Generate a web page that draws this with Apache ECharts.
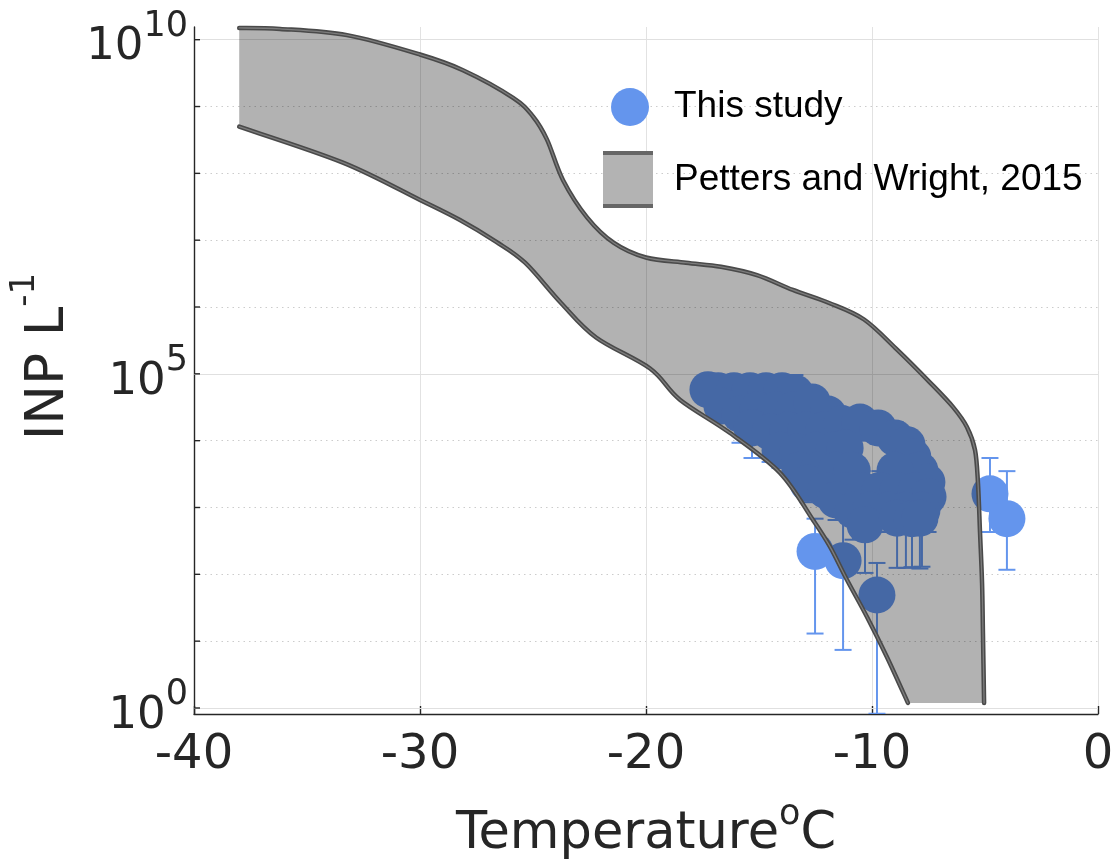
<!DOCTYPE html>
<html>
<head>
<meta charset="utf-8">
<script src="https://cdn.jsdelivr.net/npm/echarts@6/dist/echarts.min.js"></script>
<style>
  html, body { margin: 0; padding: 0; background: #ffffff; }
  #chart { width: 1114px; height: 864px; }
</style>
</head>
<body>
<div id="chart"></div>
<script>
// ---- axis ticks ----
const xTicks = [-40, -30, -20, -10, 0];
const yDecades = [1, 1e1, 1e2, 1e3, 1e4, 1e5, 1e6, 1e7, 1e8, 1e9, 1e10];
const yLabelDecades = [1, 1e5, 1e10];

// ---- INP measurements (this study): temperature, concentration, error range ----
const obsTemp = [
  -17.26, -16.81, -16.11, -15.40, -14.69, -13.98, -13.41,
  -16.64, -15.84, -15.04, -14.25, -13.45, -12.65, -11.95,
  -15.31, -14.51, -13.72, -12.92, -12.12, -11.33, -10.53, -9.73, -8.98, -8.45,
  -14.07, -13.27, -12.48, -11.68, -11.19, -8.19, -7.88,
  -13.19, -12.39, -11.59, -10.88, -8.98, -7.57,
  -12.83, -12.04, -11.24, -10.44, -9.65, -8.85, -8.05, -7.52,
  -11.59, -10.84, -10.09, -9.29, -8.50, -7.79,
  -10.31, -8.89, -8.23, -7.88,
  -11.28, -9.78,
  -12.52, -4.78, -4.03
];
const obsINP = [
  5.8e4, 5.6e4, 5.6e4, 5.6e4, 5.6e4, 5.6e4, 5.2e4,
  3.3e4, 2.5e4, 2.9e4, 2.9e4, 2.9e4, 3.8e4, 2.5e4,
  1.55e4, 1.35e4, 1.45e4, 1.45e4, 1.45e4, 1.8e4, 1.9e4, 1.55e4, 1.1e4, 8.7e3,
  7.2e3, 6.8e3, 7.2e3, 7.2e3, 7.8e3, 5.7e3, 3.6e3,
  3.6e3, 3.6e3, 3.6e3, 3.6e3, 3.6e3, 2.4e3,
  2.3e3, 1.8e3, 1.8e3, 1.8e3, 1.8e3, 1.8e3, 1.8e3, 1.45e3,
  1.3e3, 910, 910, 910, 910, 910,
  550, 690, 680, 690,
  160, 49,
  220, 1.6e3, 680
];
const obsLow = [
  3.8e4, 2.9e4, 3.0e4, 3.0e4, 3.0e4, 3.0e4, 2.8e4,
  2.1e4, 9.3e3, 1.5e4, 1.5e4, 1.5e4, 2.0e4, 1.4e4,
  5.5e3, 4.8e3, 3.9e3, 6.0e3, 6.0e3, 8.0e3, 1.0e4, 9.0e3, 6.0e3, 5.0e3,
  3.9e3, 2.9e3, 3.5e3, 3.5e3, 3.5e3, 3.0e3, 2.0e3,
  2.0e3, 2.0e3, 2.0e3, 2.0e3, 2.0e3, 1.3e3,
  1.2e3, 1.2e3, 900, 900, 900, 900, 900, 430,
  650, 330, 400, 430, 125, 130,
  105, 125, 128, 122,
  7.4, 0.82,
  13, 430, 117
];
const obsHigh = [
  9.6e4, 9.6e4, 9.6e4, 9.6e4, 9.6e4, 9.6e4, 9.6e4,
  5.6e4, 4.5e4, 5.0e4, 5.0e4, 5.0e4, 6.0e4, 4.2e4,
  2.8e4, 2.5e4, 2.6e4, 2.6e4, 2.6e4, 3.0e4, 2.8e4, 2.1e4, 1.9e4, 1.4e4,
  1.5e4, 1.4e4, 1.5e4, 1.5e4, 1.5e4, 7.8e3, 5.1e3,
  7.0e3, 7.0e3, 7.0e3, 7.0e3, 5.0e3, 4.5e3,
  5.0e3, 4.0e3, 4.0e3, 3.5e3, 3.5e3, 3.5e3, 3.5e3, 2.8e3,
  2.6e3, 2.0e3, 2.0e3, 2.0e3, 2.0e3, 2.0e3,
  1.2e3, 1.5e3, 1.5e3, 1.5e3,
  710, 148,
  680, 5.5e3, 3.5e3
];

// ---- Petters and Wright (2015) envelope ----
const bandUpperTemp = [-38.0, -36.19, -33.23, -30.0, -28.10, -25.88, -25.0, -24.38, -23.67, -22.61,
  -21.42, -20.0, -18.23, -16.68, -15.09, -13.50, -11.90, -10.35, -8.89, -7.43, -6.42, -5.80, -5.44,
  -5.31, -5.22, -5.13, -5.09, -5.04];
const bandUpperINP = [1.5e10, 1.45e10, 1.17e10, 6.0e9, 3.5e9, 1.35e9, 7.1e8, 3.2e8, 7.9e7, 2.2e7,
  9.1e6, 5.5e6, 4.6e6, 4.0e6, 3.0e6, 1.8e6, 1.15e6, 6.5e5, 2.3e5, 7.4e4, 3.2e4, 1.6e4, 7.2e3,
  2.3e3, 420, 74, 13, 1.19];
const bandLowerTemp = [-38.0, -33.41, -30.0, -28.23, -26.64, -25.35, -23.76, -22.21, -19.82, -18.50,
  -16.28, -14.07, -12.61, -11.86, -11.11, -10.22, -9.34, -8.41];
const bandLowerINP = [5.0e8, 1.45e8, 4.0e7, 2.0e7, 9.5e6, 4.6e6, 1.15e6, 3.5e5, 1.2e5, 4.1e4,
  1.3e4, 3.3e3, 650, 260, 83, 23, 5.8, 1.19];

// ---- drawing helpers ----
// Catmull-Rom curve through pixel points, as SVG path commands
function curvePath(pts, start) {
  let d = (start ? 'M' : 'L') + pts[0][0] + ',' + pts[0][1];
  for (let i = 0; i < pts.length - 1; i++) {
    const p0 = pts[i - 1] || pts[i];
    const p1 = pts[i];
    const p2 = pts[i + 1];
    const p3 = pts[i + 2] || p2;
    const c1x = p1[0] + (p2[0] - p0[0]) / 6, c1y = p1[1] + (p2[1] - p0[1]) / 6;
    const c2x = p2[0] - (p3[0] - p1[0]) / 6, c2y = p2[1] - (p3[1] - p1[1]) / 6;
    d += 'C' + c1x + ',' + c1y + ',' + c2x + ',' + c2y + ',' + p2[0] + ',' + p2[1];
  }
  return d;
}

const bandLegendIcon = 'image://data:image/svg+xml;charset=utf-8,' + encodeURIComponent(
  '<svg xmlns="http://www.w3.org/2000/svg" width="50" height="57">' +
  '<rect x="0" y="2" width="50" height="53" fill="#b3b3b3"/>' +
  '<rect x="0" y="0" width="50" height="4" fill="#666666"/>' +
  '<rect x="0" y="53" width="50" height="4" fill="#666666"/></svg>');

const FONT = 'DejaVu Sans';
const INK = '#262626';
const POINT_BLUE = '#6495ED';

const supRich = (base, sup, raise) => ({
  b: { fontFamily: FONT, fontSize: base, color: INK, padding: [raise, 0, 0, 0], verticalAlign: 'bottom' },
  s: { fontFamily: FONT, fontSize: sup, color: INK, verticalAlign: 'top' }
});

const chart = echarts.init(document.getElementById('chart'), null, { renderer: 'canvas' });

chart.setOption({
  animation: false,
  backgroundColor: '#ffffff',
  grid: { left: 194, right: 16, top: 27, bottom: 150, containLabel: false, outerBoundsMode: 'none' },
  legend: [
    {
      data: [{ name: 'This study', icon: 'circle' }],
      left: 611, top: 88, padding: 0,
      itemWidth: 38, itemHeight: 38,
      selectedMode: false,
      textStyle: { fontFamily: 'Liberation Sans', fontSize: 37, color: '#000000', padding: [0, 0, 0, 20] }
    },
    {
      data: [{ name: 'Petters and Wright, 2015', icon: bandLegendIcon }],
      left: 603, top: 151, padding: 0,
      itemWidth: 50, itemHeight: 57,
      selectedMode: false,
      textStyle: { fontFamily: 'Liberation Sans', fontSize: 37, color: '#000000', padding: [0, 0, 0, 16] }
    }
  ],
  xAxis: {
    type: 'value',
    min: xTicks[0],
    max: xTicks[xTicks.length - 1],
    interval: 10,
    name: '{b|Temperature}{s|o}{b|C}',
    nameLocation: 'middle',
    nameGap: 83,
    nameTextStyle: { rich: supRich(51, 35, 12) },
    axisLine: { show: true, onZero: false, lineStyle: { color: INK, width: 1.4 } },
    axisTick: { show: true, inside: true, length: 8, lineStyle: { color: INK, width: 1.4 } },
    axisLabel: { fontFamily: FONT, fontSize: 48, color: INK, margin: 18 },
    splitLine: { show: true, lineStyle: { color: '#e2e2e2', width: 1 } }
  },
  yAxis: {
    type: 'log',
    logBase: 10,
    min: Math.pow(10, -0.09),
    max: Math.pow(10, 10.19),
    position: 'left',
    name: '{b|INP L}{s|-1}',
    nameLocation: 'middle',
    nameRotate: 90,
    nameGap: 103,
    nameTextStyle: { rich: supRich(53, 34, 14), padding: [0, 0, 0, 28] },
    axisLine: { show: true, onZero: false, lineStyle: { color: INK, width: 1.4 } },
    // decade positions drive the dotted grid; the tick marks themselves are drawn by the 'y ticks' series
    axisTick: { show: false, customValues: yDecades },
    axisLabel: {
      show: true,
      customValues: yLabelDecades,
      margin: 6,
      formatter: v => '{b|10}{s|' + Math.round(Math.log10(v)) + '}',
      rich: supRich(45, 35, 16)
    },
    splitLine: { show: true, lineStyle: { color: '#cccccc', width: 1, type: [1.5, 4] } }
  },
  series: [
    {
      name: 'This study error',
      type: 'custom',
      z: 2,
      clip: true,
      encode: { x: 0, y: [1, 2] },
      data: obsTemp.map((t, i) => [t, obsLow[i], obsHigh[i]]),
      // solid grid lines at the labelled decades
      markLine: {
        silent: true,
        symbol: 'none',
        z: 1,
        label: { show: false },
        lineStyle: { color: '#e0e0e0', width: 1, type: 'solid' },
        data: yLabelDecades.map(v => ({ yAxis: v }))
      },
      renderItem: (params, api) => {
        const t = api.value(0);
        const pLo = api.coord([t, api.value(1)]);
        const pHi = api.coord([t, api.value(2)]);
        const half = 8.5;
        const style = { stroke: POINT_BLUE, lineWidth: 2, fill: null };
        return {
          type: 'group',
          children: [
            { type: 'line', shape: { x1: pLo[0], y1: pLo[1], x2: pHi[0], y2: pHi[1] }, style },
            { type: 'line', shape: { x1: pLo[0] - half, y1: pLo[1], x2: pLo[0] + half, y2: pLo[1] }, style },
            { type: 'line', shape: { x1: pHi[0] - half, y1: pHi[1], x2: pHi[0] + half, y2: pHi[1] }, style }
          ]
        };
      }
    },
    {
      name: 'This study',
      type: 'scatter',
      z: 3,
      symbol: 'circle',
      symbolSize: 37,
      itemStyle: { color: POINT_BLUE, opacity: 1 },
      data: obsTemp.map((t, i) => [t, obsINP[i]])
    },
    {
      name: 'Petters and Wright, 2015',
      type: 'custom',
      z: 4,
      itemStyle: { color: '#b3b3b3' },
      data: [[bandUpperTemp[0], bandUpperINP[0]]],
      renderItem: (params, api) => {
        const up = bandUpperTemp.map((t, i) => api.coord([t, bandUpperINP[i]]));
        const lo = bandLowerTemp.map((t, i) => api.coord([t, bandLowerINP[i]]));
        const upPath = curvePath(up, true);
        const loPath = curvePath(lo, true);
        const fillPath = upPath + curvePath(lo.slice().reverse(), false) + 'Z';
        const edgeOuter = { fill: null, stroke: '#4a4a4a', lineWidth: 4.5, lineCap: 'round', lineJoin: 'round' };
        const edgeInner = { fill: null, stroke: '#7d7d7d', lineWidth: 1.3, lineCap: 'round', lineJoin: 'round' };
        return {
          type: 'group',
          children: [
            { type: 'path', shape: { pathData: fillPath }, style: { fill: 'rgba(0,0,0,0.3)', stroke: null } },
            { type: 'path', shape: { pathData: upPath }, style: edgeOuter },
            { type: 'path', shape: { pathData: loPath }, style: edgeOuter },
            { type: 'path', shape: { pathData: upPath }, style: edgeInner },
            { type: 'path', shape: { pathData: loPath }, style: edgeInner }
          ]
        };
      }
    },
    {
      // inward tick marks on the y axis at every decade
      name: 'y ticks',
      type: 'custom',
      silent: true,
      z: 6,
      clip: false,
      data: yDecades.map(v => [xTicks[0], v]),
      renderItem: (params, api) => {
        const p = api.coord([api.value(0), api.value(1)]);
        return {
          type: 'line',
          shape: { x1: p[0], y1: p[1], x2: p[0] + 6, y2: p[1] },
          style: { stroke: INK, lineWidth: 1.4 }
        };
      }
    }
  ]
});
</script>
</body>
</html>
